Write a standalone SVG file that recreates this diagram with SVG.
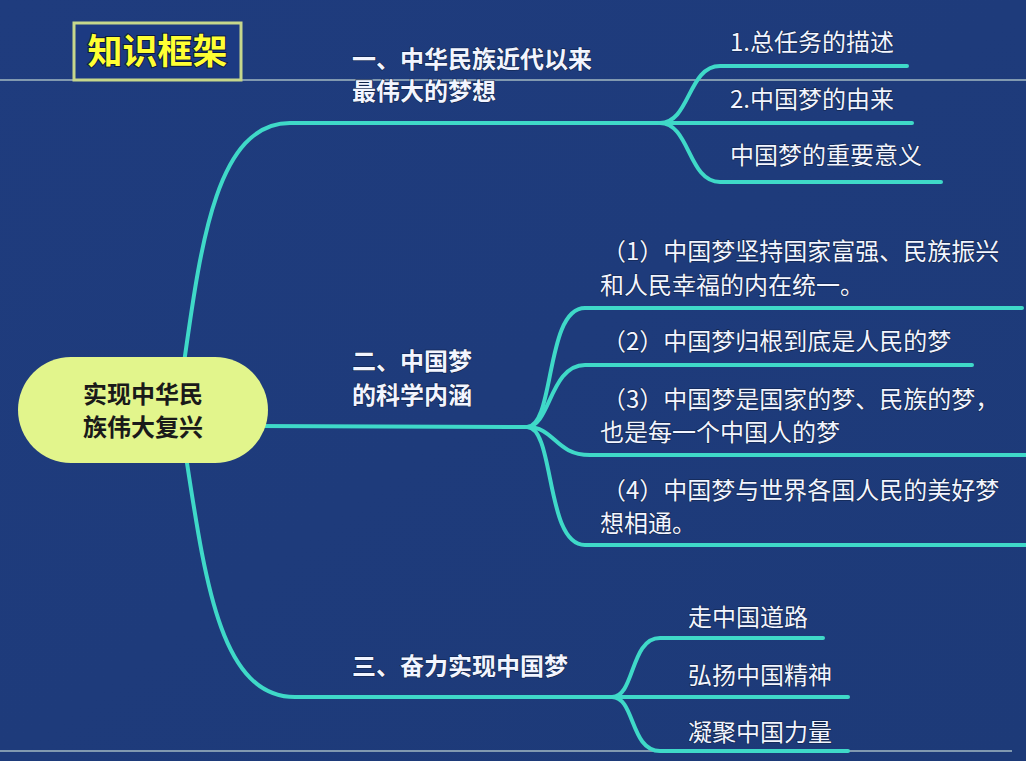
<svg xmlns="http://www.w3.org/2000/svg" width="1026" height="761" viewBox="0 0 1026 761">
<defs>
<linearGradient id="bg" x1="0" y1="0" x2="1" y2="1">
<stop offset="0" stop-color="#1f3c7e"/>
<stop offset="1" stop-color="#1d3a78"/>
</linearGradient>
</defs>
<style>
.rule{stroke:#8199b0;stroke-width:2;fill:none}
.con{stroke:#3fd9c8;stroke-width:4;fill:none;stroke-linecap:round}
.t{font-family:"Noto Sans CJK SC","Noto Sans",sans-serif;font-size:24px;fill:#f2f5ff;stroke:#0f2248;stroke-width:1.2;paint-order:stroke}
.b{font-weight:bold}
.root{font-family:"Noto Sans CJK SC","Noto Sans",sans-serif;font-size:24px;font-weight:bold;fill:#1a1a1a;text-anchor:middle}
.title{font-family:"Noto Sans CJK SC","Noto Sans",sans-serif;font-size:35px;font-weight:bold;fill:#ffff33;stroke:#0c1a3c;stroke-width:2;paint-order:stroke;text-anchor:middle}
</style>
<rect x="0" y="0" width="1026" height="761" fill="url(#bg)"/>
<line class="rule" x1="0" y1="80" x2="1026" y2="80"/>
<line class="rule" x1="0" y1="751" x2="1012" y2="751"/>

<g id="title">
<rect x="74" y="23" width="167" height="57" fill="#1c3a82" stroke="#c6d78c" stroke-width="3"/>
<text class="title" x="157.5" y="64">知识框架</text>
</g>

<g id="connectors">
<path class="con" d="M183,370 C200,250 215,123 290,123 L660,123"/>
<path class="con" d="M250,426 L527,427"/>
<path class="con" d="M185,450 C205,580 220,697 295,697 L612,697"/>

<path class="con" d="M660,123 C690,123 688,66 720,66 L907,66"/>
<path class="con" d="M660,123 L912,123"/>
<path class="con" d="M660,123 C690,123 688,182 720,182 L941,182"/>

<path class="con" d="M527,427 C555,427 545,308 585,308 L1022,308"/>
<path class="con" d="M527,427 C550,427 550,365 585,365 L972,365"/>
<path class="con" d="M527,427 C555,427 555,455 590,455 L1026,455"/>
<path class="con" d="M527,427 C555,427 545,545 585,545 L1026,545"/>

<path class="con" d="M612,697 C635,697 630,638 660,638 L823,638"/>
<path class="con" d="M612,697 L848,697"/>
<path class="con" d="M612,697 C635,697 630,751 660,751 L848,751"/>
</g>

<g id="root">
<rect x="18" y="357" width="250" height="106" rx="53" fill="#e2f58c"/>
<text class="root" x="143" y="403">实现中华民</text>
<text class="root" x="143" y="436">族伟大复兴</text>
</g>

<g id="branch1">
<text class="t b" x="352" y="68">一、中华民族近代以来</text>
<text class="t b" x="352" y="100">最伟大的梦想</text>
</g>
<g id="b1-1"><text class="t" x="730" y="51">1.总任务的描述</text></g>
<g id="b1-2"><text class="t" x="730" y="108">2.中国梦的由来</text></g>
<g id="b1-3"><text class="t" x="730" y="164">中国梦的重要意义</text></g>

<g id="branch2">
<text class="t b" x="352" y="370">二、中国梦</text>
<text class="t b" x="352" y="404">的科学内涵</text>
</g>
<g id="b2-1">
<text class="t" x="602" y="260">（1）中国梦坚持国家富强、民族振兴</text>
<text class="t" x="600" y="294">和人民幸福的内在统一。</text>
</g>
<g id="b2-2"><text class="t" x="602" y="350">（2）中国梦归根到底是人民的梦</text></g>
<g id="b2-3">
<text class="t" x="602" y="408">（3）中国梦是国家的梦、民族的梦，</text>
<text class="t" x="600" y="441">也是每一个中国人的梦</text>
</g>
<g id="b2-4">
<text class="t" x="602" y="499">（4）中国梦与世界各国人民的美好梦</text>
<text class="t" x="600" y="532">想相通。</text>
</g>

<g id="branch3"><text class="t b" x="352" y="675">三、奋力实现中国梦</text></g>
<g id="b3-1"><text class="t" x="688" y="626">走中国道路</text></g>
<g id="b3-2"><text class="t" x="688" y="684">弘扬中国精神</text></g>
<g id="b3-3"><text class="t" x="688" y="741">凝聚中国力量</text></g>
</svg>
